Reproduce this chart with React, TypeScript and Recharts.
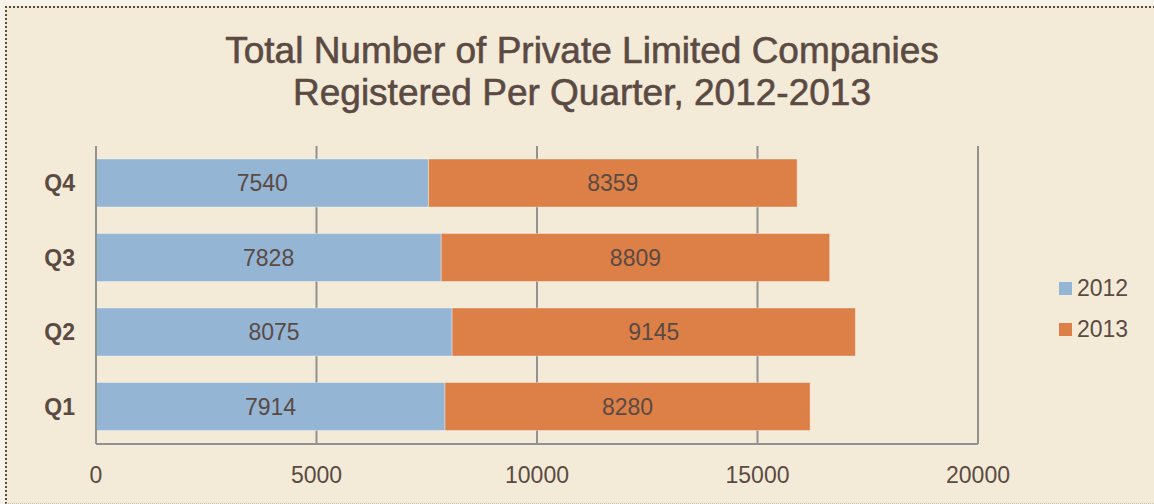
import React from 'react';
import {
  BarChart,
  Bar,
  XAxis,
  YAxis,
  CartesianGrid,
  Legend,
  LabelList,
} from 'recharts';

const quarters = ['Q1', 'Q2', 'Q3', 'Q4'];
const values2012 = [7914, 8075, 7828, 7540];
const values2013 = [8280, 9145, 8809, 8359];
const xTicks = [0, 5000, 10000, 15000, 20000];

const data = quarters.map((q, i) => ({
  q,
  y2012: values2012[i],
  y2013: values2013[i],
}));

const FONT = '"Liberation Sans", Arial, Helvetica, sans-serif';
const TEXT = '#5b4a43';
const GRID = '#929292';
const BLUE = '#94b5d4';
const ORANGE = '#dd8047';

const renderLegend = (props: any) => {
  const { payload = [] } = props;
  return (
    <div style={{ fontFamily: FONT }}>
      {payload.map((entry: any) => (
        <div
          key={entry.value}
          style={{ height: 41, display: 'flex', alignItems: 'center' }}
        >
          <span
            style={{
              display: 'inline-block',
              width: 13,
              height: 13,
              background: entry.color,
              marginRight: 5,
            }}
          />
          <span style={{ fontSize: 23, color: TEXT }}>{entry.value}</span>
        </div>
      ))}
    </div>
  );
};

export default function App() {
  return (
    <div
      style={{
        position: 'fixed',
        left: 0,
        top: 0,
        width: 1154,
        height: 504,
        background: '#f8f3ea',
        overflow: 'hidden',
      }}
    >
      <div
        style={{
          position: 'absolute',
          left: 5,
          top: 6,
          width: 1180,
          height: 495,
          background: '#f3ead8',
          borderTop: '2px dotted #5a4a3a',
          borderLeft: '2px dotted #5a4a3a',
          borderBottom: '1px dotted #c9c1b3',
        }}
      />
      <div
        style={{
          position: 'absolute',
          left: 0,
          top: 30,
          width: 1164,
          textAlign: 'center',
          fontFamily: FONT,
          fontSize: 37,
          lineHeight: '41.6px',
          color: TEXT,
          WebkitTextStroke: '0.6px ' + TEXT,
        }}
      >
        Total Number of Private Limited Companies
        <br />
        Registered Per Quarter, 2012-2013
      </div>
      <div style={{ position: 'absolute', left: 0, top: 0 }}>
        <BarChart
          width={1154}
          height={504}
          data={data}
          layout="vertical"
          margin={{ top: 146, right: 176, bottom: 0, left: 0 }}
        >
          <CartesianGrid
            horizontal={false}
            stroke={GRID}
            strokeWidth={2}
          />
          <XAxis
            type="number"
            domain={[0, 20000]}
            ticks={xTicks}
            height={60}
            axisLine={{ stroke: GRID, strokeWidth: 2 }}
            tickLine={false}
            tickSize={6}
            tickMargin={17}
            tick={{ fill: TEXT, fontSize: 23, fontFamily: FONT }}
          />
          <YAxis
            type="category"
            dataKey="q"
            reversed
            width={96}
            axisLine={{ stroke: GRID, strokeWidth: 2 }}
            tickLine={false}
            tickSize={6}
            tickMargin={15}
            tick={{ fill: TEXT, fontSize: 23, fontFamily: FONT, fontWeight: 'bold' }}
          />
          <Legend
            layout="vertical"
            align="center"
            verticalAlign="middle"
            content={renderLegend}
            wrapperStyle={{ left: 1059, top: 268, width: 90 }}
          />
          <Bar
            dataKey="y2012"
            name="2012"
            stackId="a"
            fill={BLUE}
            barSize={48}
            stroke="rgba(255,255,255,0.35)"
            strokeWidth={1}
            isAnimationActive={false}
          >
            <LabelList
              dataKey="y2012"
              position="center"
              fill={TEXT}
              fontSize={23}
              fontFamily={FONT}
            />
          </Bar>
          <Bar
            dataKey="y2013"
            name="2013"
            stackId="a"
            fill={ORANGE}
            barSize={48}
            stroke="rgba(255,255,255,0.35)"
            strokeWidth={1}
            isAnimationActive={false}
          >
            <LabelList
              dataKey="y2013"
              position="center"
              fill={TEXT}
              fontSize={23}
              fontFamily={FONT}
            />
          </Bar>
        </BarChart>
      </div>
    </div>
  );
}
